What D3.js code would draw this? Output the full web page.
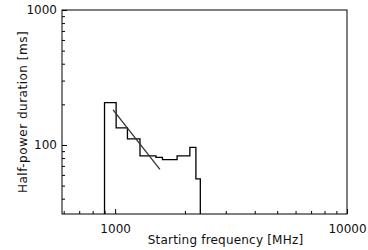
<!DOCTYPE html>
<html>
<head>
<meta charset="utf-8">
<script src="https://cdn.jsdelivr.net/npm/d3@7"></script>
<style>
  body { margin: 0; background: #fff; }
  svg { display: block; }
  .lbl { font-family: "DejaVu Sans", sans-serif; fill: #111; }
</style>
</head>
<body>
<svg id="chart" width="368" height="250"></svg>
<script>
// histogram: bin edges (MHz) and half-power durations (ms)
var binEdges = [900, 1010, 1130, 1280, 1500, 1600, 1850, 2100, 2230, 2330];
var durations = [206, 134, 111, 83, 81, 78, 83, 96, 56];

// power-law fit drawn over the first bins
var fitFreq = [980, 1560];
var fitDur = [182, 66];

var xMajor = [1000, 10000];
var xMinor = [600, 700, 800, 900, 2000, 3000, 4000, 5000, 6000, 7000, 8000, 9000];
var yMajor = [100, 1000];
var yMinor = [40, 50, 60, 70, 80, 90, 200, 300, 400, 500, 600, 700, 800, 900];

var svg = d3.select("#chart");
var margin = {top: 10, right: 21, bottom: 36, left: 62},
    width = 368 - margin.left - margin.right,
    height = 250 - margin.top - margin.bottom;

var g = svg.append("g").attr("transform", "translate(" + margin.left + "," + margin.top + ")");

var xScale = d3.scaleLog().domain([590, 10000]).range([0, width]);
var yScale = d3.scaleLog().domain([30.8, 1000]).range([height, 0]);

g.append("clipPath").attr("id", "clip")
  .append("rect").attr("width", width).attr("height", height);

// minor ticks
g.append("g")
  .attr("transform", "translate(0," + height + ")")
  .call(d3.axisBottom(xScale).tickValues(xMinor).tickSize(-3).tickFormat(""))
  .call(function(a) { a.select(".domain").remove(); });
g.append("g")
  .call(d3.axisLeft(yScale).tickValues(yMinor).tickSize(-3).tickFormat(""))
  .call(function(a) { a.select(".domain").remove(); });

// major ticks with labels
var xAx = g.append("g")
  .attr("transform", "translate(0," + height + ")")
  .call(d3.axisBottom(xScale).tickValues(xMajor).tickSize(-5).tickPadding(10).tickFormat(d3.format("d")));
xAx.select(".domain").remove();
xAx.selectAll("text").attr("class", "lbl").style("font-size", "12px").attr("fill", null);

var yAx = g.append("g")
  .call(d3.axisLeft(yScale).tickValues(yMajor).tickSize(-5).tickPadding(5).tickFormat(d3.format("d")));
yAx.select(".domain").remove();
yAx.selectAll("text").attr("class", "lbl").style("font-size", "12px").attr("fill", null);

// frame
g.append("rect")
  .attr("width", width).attr("height", height)
  .attr("fill", "none").attr("stroke", "#000").attr("stroke-width", 1);

// histogram as a step outline
var pts = [[binEdges[0], yScale.domain()[0]]];
durations.forEach(function(d, i) {
  pts.push([binEdges[i], d]);
  pts.push([binEdges[i + 1], d]);
});
pts.push([binEdges[binEdges.length - 1], yScale.domain()[0]]);

var line = d3.line()
  .x(function(d) { return xScale(d[0]); })
  .y(function(d) { return yScale(d[1]); });

g.append("path")
  .attr("clip-path", "url(#clip)")
  .attr("d", line(pts))
  .attr("fill", "none")
  .attr("stroke", "#000")
  .attr("stroke-width", 1.3);

// fit line
g.append("path")
  .attr("d", line(fitFreq.map(function(f, i) { return [f, fitDur[i]]; })))
  .attr("fill", "none")
  .attr("stroke", "#333")
  .attr("stroke-width", 1.3);

// axis titles
g.append("text")
  .attr("class", "lbl")
  .attr("x", width / 2 + 21)
  .attr("y", height + 30)
  .attr("text-anchor", "middle")
  .style("font-size", "12px")
  .style("letter-spacing", "0.2px")
  .text("Starting frequency [MHz]");

g.append("text")
  .attr("class", "lbl")
  .attr("transform", "rotate(-90)")
  .attr("x", -height / 2)
  .attr("y", -35)
  .attr("text-anchor", "middle")
  .style("font-size", "12px")
  .style("letter-spacing", "0.5px")
  .text("Half-power duration [ms]");
</script>
</body>
</html>
